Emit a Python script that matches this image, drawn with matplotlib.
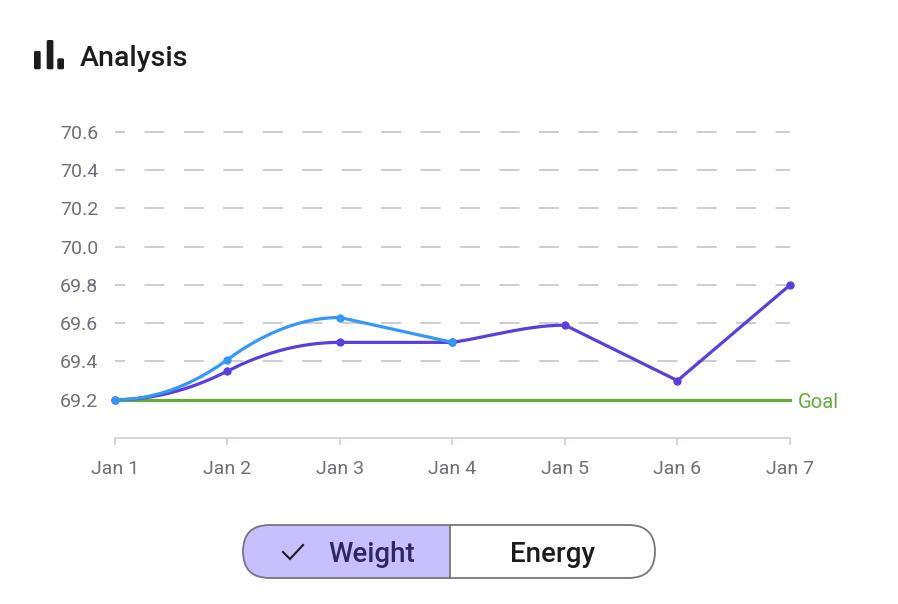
import numpy as np
import matplotlib.pyplot as plt
from matplotlib.patches import FancyBboxPatch, Rectangle

plt.rcParams["font.family"] = ["Roboto", "DejaVu Sans"]
plt.rcParams["lines.scale_dashes"] = False

# data
days = ["Jan 1", "Jan 2", "Jan 3", "Jan 4", "Jan 5", "Jan 6", "Jan 7"]
weight_purple = [69.2, 69.35, 69.5, 69.5, 69.59, 69.3, 69.8]
weight_blue = [69.2, 69.41, 69.63, 69.5]
goal = 69.2
y_ticks = [69.2, 69.4, 69.6, 69.8, 70.0, 70.2, 70.4, 70.6]

PURPLE = "#5a3fdc"
BLUE = "#3597f7"
GREEN = "#66aa38"
GRID = "#cdccd2"
AXIS = "#c9c7d6"
LABEL = "#706e7b"

W, H = 898, 604


def smooth(vals, n=60):
    # cubic hermite: steep through rising runs, flat into peaks,
    # straight out of peaks and through valleys
    y = np.asarray(vals, dtype=float)
    d = np.diff(y)
    k = len(y)
    arrive = np.zeros(k)
    leave = np.zeros(k)
    for i in range(k):
        if i == 0:
            leave[i] = 0 if d[0] > 0 else d[0]
        elif i == k - 1:
            arrive[i] = d[-1]
        elif d[i - 1] > 0 and d[i] > 0:
            t = min(d[i - 1] + d[i], 3 * min(d[i - 1], d[i]))
            arrive[i] = leave[i] = t
        elif d[i - 1] > 0:
            arrive[i] = 0
            leave[i] = d[i]
        else:
            arrive[i] = d[i - 1]
            leave[i] = d[i]
    xs, ys = [], []
    for i in range(k - 1):
        s = np.linspace(0, 1, n)
        h00 = 2 * s**3 - 3 * s**2 + 1
        h10 = s**3 - 2 * s**2 + s
        h01 = -2 * s**3 + 3 * s**2
        h11 = s**3 - s**2
        xs.append(i + s)
        ys.append(h00 * y[i] + h10 * leave[i] + h01 * y[i + 1] + h11 * arrive[i + 1])
    return np.concatenate(xs), np.concatenate(ys)


fig = plt.figure(figsize=(W / 100, H / 100), dpi=100)
ax = fig.add_axes([115 / W, 1 - 438 / H, 675 / W, 306 / H])
ax.set_xlim(0, len(days) - 1)
ax.set_ylim(69.0, 70.6)

for v in y_ticks:
    ax.axhline(v, color=GRID, lw=1.4, linestyle=(7.2, (14.4, 14.0)),
               clip_on=False, zorder=1)

ax.axhline(goal, color=GREEN, lw=2.3, zorder=2, clip_on=False)
ax.annotate("Goal", xy=(len(days) - 1, goal), xytext=(5.5, -6.2),
            textcoords="offset points", color=GREEN, fontsize=14.5,
            va="baseline", ha="left", annotation_clip=False)

xp, yp = smooth(weight_purple)
ax.plot(xp, yp, color=PURPLE, lw=2.3, zorder=3, clip_on=False,
        solid_capstyle="round", solid_joinstyle="round")
ax.plot(range(len(weight_purple)), weight_purple, "o", color=PURPLE,
        ms=5, zorder=4, clip_on=False)

xb, yb = smooth(weight_blue)
ax.plot(xb, yb, color=BLUE, lw=2.3, zorder=5, clip_on=False,
        solid_capstyle="round", solid_joinstyle="round")
ax.plot(range(len(weight_blue)), weight_blue, "o", color=BLUE,
        ms=5, zorder=6, clip_on=False)

ax.set_yticks(y_ticks)
ax.set_yticklabels([f"{v:.1f}" for v in y_ticks])
ax.set_xticks(range(len(days)))
ax.set_xticklabels(days)
ax.tick_params(axis="y", length=0, pad=12, labelsize=14, labelcolor=LABEL)
ax.tick_params(axis="x", length=5, width=1.1, color=AXIS, pad=11,
               labelsize=14, labelcolor=LABEL)
for side in ["left", "top", "right"]:
    ax.spines[side].set_visible(False)
ax.spines["bottom"].set_color(AXIS)
ax.spines["bottom"].set_linewidth(1.1)

# overlay in pixel units for header and toggle
ov = fig.add_axes([0, 0, 1, 1])
ov.set_xlim(0, W)
ov.set_ylim(H, 0)
ov.axis("off")

# chart icon
for x0, y0 in [(34, 51), (46.7, 40), (57.3, 58.3)]:
    ov.add_patch(FancyBboxPatch((x0 + 1.5, y0 + 1.5), 3.7, 69.3 - y0 - 3,
                                boxstyle="round,pad=1.5", fc="#1c1b1f", ec="none"))
ov.text(80, 66, "Analysis", fontsize=20.5, fontweight="medium",
        color="#1c1b1f", va="baseline", ha="left")

# segmented toggle
r = 26.5
pill = FancyBboxPatch((243 + r, 525 + r), 412 - 2 * r, 53 - 2 * r,
                      boxstyle=f"round,pad={r}", fc="white", ec="none")
ov.add_patch(pill)
left = Rectangle((243, 525), 207, 53, fc="#c8bfff", ec="none")
ov.add_patch(left)
left.set_clip_path(pill)
ov.add_patch(FancyBboxPatch((243 + r, 525 + r), 412 - 2 * r, 53 - 2 * r,
                            boxstyle=f"round,pad={r}", fc="none",
                            ec="#79747e", lw=1.3))
ov.plot([450, 450], [525, 578], color="#79747e", lw=1.3)
ov.plot([283, 290, 303], [552, 559, 545], color="#1d1b20", lw=1.5,
        solid_joinstyle="miter")
ov.text(372, 562, "Weight", fontsize=20, fontweight="medium",
        color="#2e2862", ha="center", va="baseline")
ov.text(552, 562, "Energy", fontsize=20, fontweight="medium",
        color="#1d1b20", ha="center", va="baseline")

fig.savefig("out.png", dpi=100)
